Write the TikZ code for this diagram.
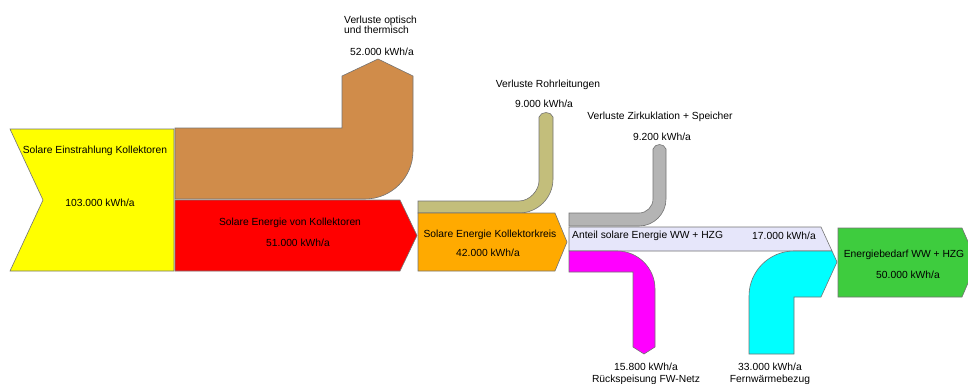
\documentclass[tikz,border=0pt]{standalone}
\usepackage{fontspec}
\setmainfont{Liberation Sans}
\definecolor{strahl}{HTML}{FFFF00}
\definecolor{optverl}{HTML}{D08C4A}
\definecolor{kollrot}{HTML}{FF0000}
\definecolor{kreis}{HTML}{FFAA00}
\definecolor{rohr}{HTML}{C3BE7B}
\definecolor{zirk}{HTML}{B4B4B4}
\definecolor{anteil}{HTML}{E6E6FA}
\definecolor{rueck}{HTML}{FF00FF}
\definecolor{fernw}{HTML}{00FFFF}
\definecolor{bedarf}{HTML}{3ECC3E}

\begin{document}
\begin{tikzpicture}[x=1pt, y=-1pt,
  flow/.style={draw=black!55, line width=0.6pt},
  txt/.style={font=\fontsize{10.3}{10.5}\selectfont, inner sep=0pt}]
\useasboundingbox (0,0) rectangle (968,383);
% solar input
\draw[flow, fill=strahl] (10,129) -- (174,129) -- (174,271) -- (10,271) -- (43,200) -- cycle;
\node[txt] (einN) at (95,151) {Solare Einstrahlung Kollektoren};
\node[txt] (einV) at (100,203) {103.000 kWh/a};
% optical and thermal losses
\draw[flow, fill=optverl] (175,128) -- (342,128) -- (342,76) -- (378,59) -- (413,76) -- (413,151)
  .. controls (413,177.5) and (391.5,199) .. (365,199) -- (175,199) -- cycle;
\node[txt, align=left, anchor=west] (optN) at (344,25) {Verluste optisch\\und thermisch};
\node[txt] (optV) at (382,52) {52.000 kWh/a};
% energy from collectors
\draw[flow, fill=kollrot] (175,200) -- (400,200) -- (417,235.5) -- (400,271) -- (175,271) -- cycle;
\node[txt] (kolN) at (290,223) {Solare Energie von Kollektoren};
\node[txt] (kolV) at (298,243) {51.000 kWh/a};
% pipe losses
\draw[flow, fill=rohr] (418,201) -- (519,201) .. controls (530,201) and (539,190) .. (539,181) -- (539,117)
  .. controls (541,111) and (551,111) .. (553,117) -- (553,179)
  .. controls (553,197.8) and (537.8,213) .. (519,213) -- (418,213) -- cycle;
\node[txt] (rohrN) at (548,85) {Verluste Rohrleitungen};
\node[txt] (rohrV) at (544,104) {9.000 kWh/a};
% collector circuit
\draw[flow, fill=kreis] (418,213) -- (555,213) -- (567,242) -- (555,271) -- (418,271) -- cycle;
\node[txt] (kreisN) at (490,235) {Solare Energie Kollektorkreis};
\node[txt] (kreisV) at (488,253) {42.000 kWh/a};
% circulation and storage losses
\draw[flow, fill=zirk] (569,213) -- (639,213) .. controls (646.7,213) and (653,206.7) .. (653,199) -- (653,149)
  .. controls (655,143) and (664,143) .. (666,149) -- (666,199)
  .. controls (666,213.9) and (653.9,226) .. (639,226) -- (569,226) -- cycle;
\node[txt] (zirkN) at (660,117) {Verluste Zirkuklation + Speicher};
\node[txt] (zirkV) at (662,137) {9.200 kWh/a};
% solar share
\draw[flow, fill=anteil] (569,227) -- (821,227) -- (832,251) -- (569,251) -- cycle;
\node[txt, anchor=west] (antN) at (572,236) {Anteil solare Energie WW + HZG};
\node[txt] (antV) at (784,236) {17.000 kWh/a};
% feed-in to district heating
\draw[flow, fill=rueck] (569,251) -- (617,251) .. controls (638,251) and (655,268) .. (655,289) -- (655,347)
  -- (644,354) -- (633,347) -- (633,272) -- (569,272) -- cycle;
\node[txt] (rueckV) at (646,367) {15.800 kWh/a};
\node[txt] (rueckN) at (646,380) {Rückspeisung FW-Netz};
% district heating supply
\draw[flow, fill=fernw] (749,354) -- (749,296) .. controls (749,271.2) and (769.2,251) .. (794,251)
  -- (832,251) -- (837,262) -- (821,297) -- (794,297) -- (794,354) -- cycle;
\node[txt] (fernV) at (770,367) {33.000 kWh/a};
\node[txt] (fernN) at (770,380) {Fernwärmebezug};
% demand
\draw[flow, fill=bedarf] (838,228) -- (962,228) -- (977,262) -- (962,297) -- (838,297) -- cycle;
\node[txt] (bedN) at (904,255) {Energiebedarf WW + HZG};
\node[txt] (bedV) at (908,275) {50.000 kWh/a};
\end{tikzpicture}
\end{document}
